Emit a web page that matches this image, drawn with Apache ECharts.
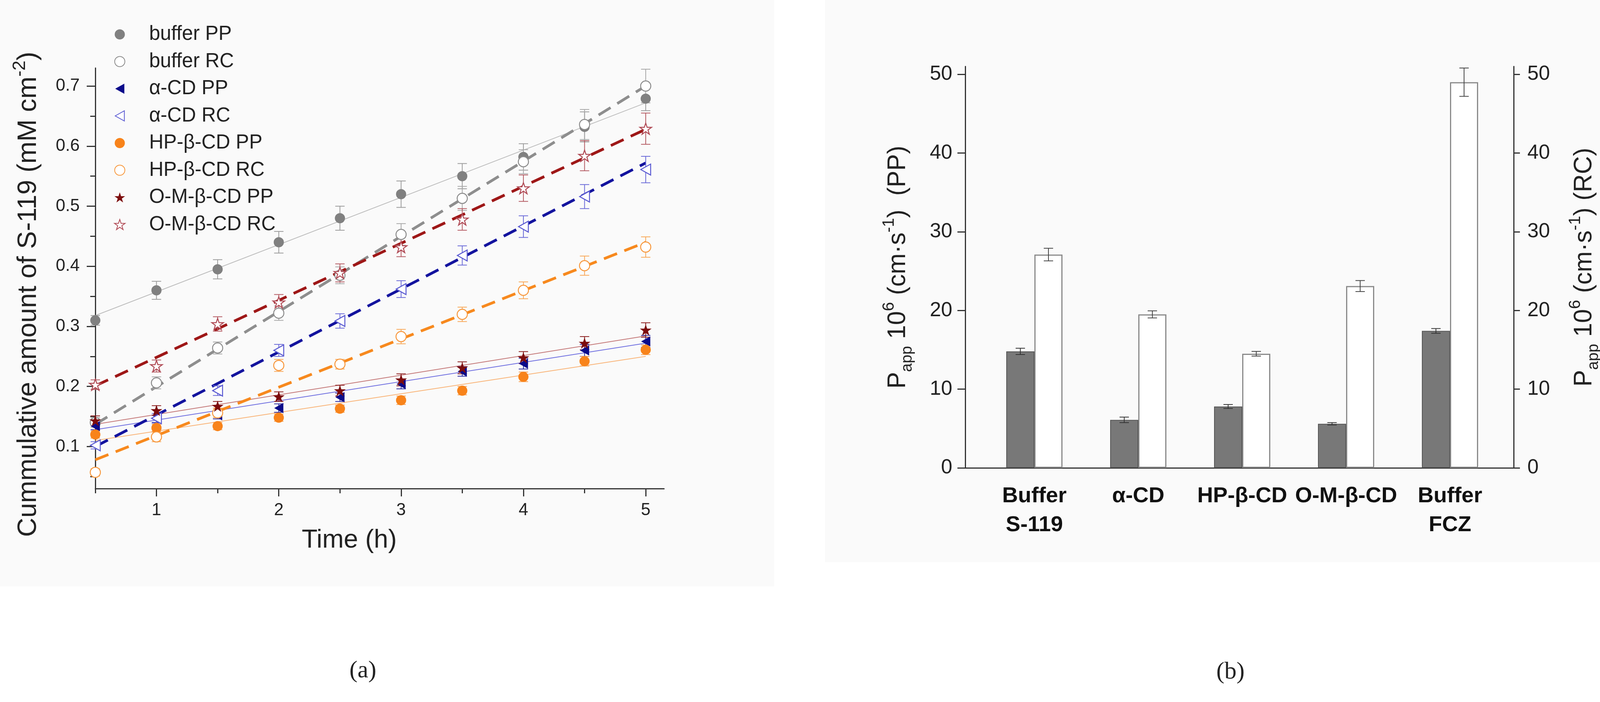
<!DOCTYPE html>
<html>
<head>
<meta charset="utf-8">
<script src="https://cdn.jsdelivr.net/npm/echarts@6.0.0/dist/echarts.min.js"></script>
<style>
  html, body { margin: 0; padding: 0; background: #fff; }
  #chart { width: 4164px; height: 1796px; }
</style>
</head>
<body>
<div id="chart"></div>
<script>
// ---- (a) cumulative amount vs time ----
const times = [0.5, 1, 1.5, 2, 2.5, 3, 3.5, 4, 4.5, 5];
const fitX = [0.5, 5];

const bufferPP = [0.31, 0.36, 0.395, 0.44, 0.48, 0.52, 0.55, 0.582, 0.632, 0.679];
const bufferPPErr = [0.008, 0.015, 0.016, 0.018, 0.02, 0.022, 0.021, 0.022, 0.025, 0.02];
const bufferRC = [0.14, 0.206, 0.264, 0.322, 0.385, 0.453, 0.513, 0.574, 0.636, 0.70];
const bufferRCErr = [0.008, 0.01, 0.01, 0.012, 0.014, 0.018, 0.02, 0.02, 0.025, 0.028];
const alphaPP = [0.134, 0.146, 0.152, 0.164, 0.182, 0.204, 0.225, 0.238, 0.26, 0.275];
const alphaPPErr = [0.006, 0.006, 0.006, 0.007, 0.007, 0.008, 0.008, 0.009, 0.01, 0.01];
const alphaRC = [0.102, 0.147, 0.193, 0.26, 0.309, 0.362, 0.418, 0.466, 0.516, 0.561];
const alphaRCErr = [0.006, 0.008, 0.008, 0.01, 0.012, 0.014, 0.016, 0.018, 0.02, 0.022];
const hpPP = [0.12, 0.131, 0.134, 0.148, 0.163, 0.177, 0.193, 0.216, 0.242, 0.261];
const hpPPErr = [0.006, 0.006, 0.006, 0.006, 0.006, 0.007, 0.007, 0.008, 0.008, 0.008];
const hpRC = [0.057, 0.116, 0.156, 0.235, 0.237, 0.283, 0.32, 0.36, 0.401, 0.432];
const hpRCErr = [0.006, 0.008, 0.008, 0.01, 0.008, 0.012, 0.012, 0.014, 0.016, 0.017];
const omPP = [0.143, 0.16, 0.167, 0.183, 0.193, 0.211, 0.231, 0.248, 0.272, 0.294];
const omPPErr = [0.008, 0.008, 0.008, 0.008, 0.009, 0.01, 0.01, 0.01, 0.011, 0.012];
const omRC = [0.203, 0.234, 0.304, 0.34, 0.389, 0.432, 0.478, 0.53, 0.584, 0.629];
const omRCErr = [0.008, 0.01, 0.012, 0.013, 0.015, 0.016, 0.018, 0.022, 0.025, 0.026];

// linear fit end points read at t = 0.5 h and t = 5 h
const bufferPPFit = [0.318, 0.672];
const bufferRCFit = [0.137, 0.70];
const alphaPPFit = [0.128, 0.272];
const alphaRCFit = [0.10, 0.572];
const hpPPFit = [0.110, 0.250];
const hpRCFit = [0.078, 0.44];
const omPPFit = [0.137, 0.284];
const omRCFit = [0.201, 0.628];

const yTicksA = [0.1, 0.2, 0.3, 0.4, 0.5, 0.6, 0.7];
const yMinorA = [0.05, 0.15, 0.25, 0.35, 0.45, 0.55, 0.65];
const xTicksA = [1, 2, 3, 4, 5];
const xMinorA = [0.5, 1.5, 2.5, 3.5, 4.5];

// ---- (b) apparent permeability ----
const groups = ['Buffer\nS-119', 'α-CD', 'HP-β-CD', 'O-M-β-CD', 'Buffer\nFCZ'];
const papPP = [14.8, 6.1, 7.8, 5.6, 17.4];
const papPPErr = [0.4, 0.35, 0.25, 0.15, 0.3];
const papRC = [27.1, 19.5, 14.5, 23.1, 49.0];
const papRCErr = [0.8, 0.45, 0.3, 0.7, 1.8];
const yTicksB = [0, 10, 20, 30, 40, 50];

const FONT = '"Liberation Sans", Arial, Helvetica, sans-serif';
const STAR = 'path://M50,0 L61.8,35.3 L98.6,35.3 L68.8,57.1 L80.2,92.7 L50,70.8 L19.8,92.7 L31.2,57.1 L1.4,35.3 L38.2,35.3 Z';
const TRI_LEFT = 'path://M0,50 L90,0 L90,100 Z';
const BAR_W = 72;

const chart = echarts.init(document.getElementById('chart'));

function errorBars(color, capHalf, dx) {
  return function (params, api) {
    const x = api.value(0), y = api.value(1), e = api.value(2);
    const hi = api.coord([x, y + e]);
    const lo = api.coord([x, y - e]);
    const cx = hi[0] + (dx || 0);
    const st = { stroke: color, lineWidth: 2 };
    return {
      type: 'group',
      children: [
        { type: 'line', shape: { x1: cx, y1: hi[1], x2: cx, y2: lo[1] }, style: st },
        { type: 'line', shape: { x1: cx - capHalf, y1: hi[1], x2: cx + capHalf, y2: hi[1] }, style: st },
        { type: 'line', shape: { x1: cx - capHalf, y1: lo[1], x2: cx + capHalf, y2: lo[1] }, style: st }
      ]
    };
  };
}

const sets = [
  { name: 'buffer PP', v: bufferPP, e: bufferPPErr, fit: bufferPPFit, symbol: 'circle', size: 26,
    fill: '#808080', stroke: '#808080', err: '#9a9a9a', line: '#bdbdbd', dashed: false },
  { name: 'buffer RC', v: bufferRC, e: bufferRCErr, fit: bufferRCFit, symbol: 'circle', size: 26,
    fill: '#fff', stroke: '#8c8c8c', err: '#a8a8a8', line: '#8e8e8e', dashed: true },
  { name: 'α-CD PP', v: alphaPP, e: alphaPPErr, fit: alphaPPFit, symbol: TRI_LEFT, size: 26,
    fill: '#0b0b8a', stroke: '#0b0b8a', err: '#2a2aa0', line: '#6f6fe0', dashed: false },
  { name: 'α-CD RC', v: alphaRC, e: alphaRCErr, fit: alphaRCFit, symbol: TRI_LEFT, size: 28,
    fill: '#fff', stroke: '#5a5ad2', err: '#6a6ad8', line: '#13139e', dashed: true },
  { name: 'HP-β-CD PP', v: hpPP, e: hpPPErr, fit: hpPPFit, symbol: 'circle', size: 26,
    fill: '#f8831a', stroke: '#f8831a', err: '#f8a050', line: '#f9b478', dashed: false },
  { name: 'HP-β-CD RC', v: hpRC, e: hpRCErr, fit: hpRCFit, symbol: 'circle', size: 26,
    fill: '#fff', stroke: '#f7983e', err: '#f8a858', line: '#f7891e', dashed: true },
  { name: 'O-M-β-CD PP', v: omPP, e: omPPErr, fit: omPPFit, symbol: STAR, size: 30,
    fill: '#7c0c0c', stroke: '#7c0c0c', err: '#8a1c1c', line: '#c47878', dashed: false },
  { name: 'O-M-β-CD RC', v: omRC, e: omRCErr, fit: omRCFit, symbol: STAR, size: 30,
    fill: '#fff', stroke: '#b04a55', err: '#b45a62', line: '#9e1717', dashed: true }
];

const series = [];
sets.forEach(function (s) {
  series.push({
    type: 'line', xAxisIndex: 0, yAxisIndex: 0, silent: true,
    showSymbol: false, z: s.dashed ? 3 : 2,
    data: fitX.map((x, i) => [x, s.fit[i]]),
    lineStyle: s.dashed
      ? { color: s.line, width: 7, type: [36, 20] }
      : { color: s.line, width: 2 }
  });
});
sets.forEach(function (s) {
  series.push({
    type: 'custom', xAxisIndex: 0, yAxisIndex: 0, silent: true, z: 4,
    renderItem: errorBars(s.err, 12),
    encode: { x: 0, y: 1 },
    data: times.map((t, i) => [t, s.v[i], s.e[i]])
  });
});
sets.forEach(function (s) {
  series.push({
    name: s.name, type: 'scatter', xAxisIndex: 0, yAxisIndex: 0, z: 5,
    symbol: s.symbol, symbolSize: s.size, symbolKeepAspect: true,
    itemStyle: { color: s.fill, borderColor: s.stroke, borderWidth: s.fill === '#fff' ? 2.5 : 0, opacity: 1 },
    data: times.map((t, i) => [t, s.v[i]])
  });
});

series.push({
  name: 'PP', type: 'bar', xAxisIndex: 3, yAxisIndex: 4, barWidth: BAR_W, barGap: '0%',
  itemStyle: { color: '#787878', borderColor: '#555', borderWidth: 2 },
  data: papPP
});
series.push({
  name: 'RC', type: 'bar', xAxisIndex: 3, yAxisIndex: 4, barWidth: BAR_W, barGap: '0%',
  itemStyle: { color: '#fff', borderColor: '#8a8a8a', borderWidth: 3 },
  data: papRC
});
series.push({
  type: 'custom', xAxisIndex: 3, yAxisIndex: 4, z: 4, silent: true,
  renderItem: errorBars('#333', 12, -BAR_W / 2),
  data: papPP.map((v, i) => [i, v, papPPErr[i]])
});
series.push({
  type: 'custom', xAxisIndex: 3, yAxisIndex: 4, z: 4, silent: true,
  renderItem: errorBars('#444', 12, BAR_W / 2),
  data: papRC.map((v, i) => [i, v, papRCErr[i]])
});

const axisLine = { show: true, onZero: false, lineStyle: { color: '#333', width: 3 } };
const tickStyle = { color: '#333', width: 3 };
const supRich = {
  sup: { fontSize: 42, lineHeight: 42, verticalAlign: 'top', fontFamily: FONT, color: '#222' },
  sub: { fontSize: 40, lineHeight: 40, verticalAlign: 'bottom', fontFamily: FONT, color: '#222' }
};

const option = {
  animation: false,
  backgroundColor: '#fff',
  textStyle: { fontFamily: FONT },
  graphic: [
    { type: 'rect', z: -100, silent: true, shape: { x: 0, y: 0, width: 1982, height: 1500 }, style: { fill: '#fafafa' } },
    { type: 'rect', z: -100, silent: true, shape: { x: 2112, y: 0, width: 2052, height: 1438 }, style: { fill: '#fafafa' } },
    { type: 'text', x: 929, y: 1717, silent: true,
      style: { text: '(a)', align: 'center', verticalAlign: 'middle', fill: '#222',
        font: '62px "Liberation Serif", "DejaVu Serif", serif' } },
    { type: 'text', x: 3150, y: 1720, silent: true,
      style: { text: '(b)', align: 'center', verticalAlign: 'middle', fill: '#222',
        font: '62px "Liberation Serif", "DejaVu Serif", serif' } }
  ],
  legend: {
    orient: 'vertical', left: 287, top: 57, itemWidth: 140, itemHeight: 26, itemGap: 17.5,
    selectedMode: false,
    data: sets.map(s => s.name),
    textStyle: { fontSize: 51, lineHeight: 52, color: '#222', fontFamily: FONT }
  },
  grid: [
    { left: 244, right: 2464, top: 174, bottom: 546 },
    { left: 2471, right: 289, top: 170, bottom: 599 },
    { left: 2515, right: 319, top: 170, bottom: 599 }
  ],
  xAxis: [
    { type: 'value', gridIndex: 0, position: 'bottom', min: 0.5, max: 5.15, axisLine: axisLine,
      axisTick: { length: 20, lineStyle: tickStyle, customValues: xTicksA },
      axisLabel: { customValues: xTicksA, fontSize: 44, color: '#222', margin: 34 },
      splitLine: { show: false },
      name: 'Time (h)', nameLocation: 'middle', nameGap: 100,
      nameTextStyle: { fontSize: 66, color: '#222', padding: [0, 156, 0, 0] } },
    { type: 'value', gridIndex: 0, position: 'bottom', min: 0.5, max: 5.15, axisLine: { show: false, onZero: false },
      axisTick: { length: 12, lineStyle: tickStyle, customValues: xMinorA },
      axisLabel: { show: false }, splitLine: { show: false } },
    { type: 'value', gridIndex: 1, position: 'bottom', min: 0, max: 1, axisLine: axisLine,
      axisTick: { show: false }, axisLabel: { show: false }, splitLine: { show: false } },
    { type: 'category', gridIndex: 2, position: 'bottom', data: groups, axisLine: { show: false }, axisTick: { show: false },
      axisLabel: { interval: 0, fontSize: 56, fontWeight: 'bold', color: '#111', lineHeight: 74, margin: 36 } }
  ],
  yAxis: [
    { type: 'value', gridIndex: 0, position: 'left', min: 0.03, max: 0.73, axisLine: axisLine,
      axisTick: { length: 22, lineStyle: tickStyle, customValues: yTicksA },
      axisLabel: { customValues: yTicksA, fontSize: 44, color: '#222', margin: 40,
        formatter: v => v.toFixed(1) },
      splitLine: { show: false },
      name: 'Cummulative amount of S-119 (mM cm{sup|-2})', nameLocation: 'middle', nameRotate: 90, nameGap: 126,
      nameTextStyle: { fontSize: 68, lineHeight: 90, color: '#222', padding: [0, 82, 0, 0],
        rich: { sup: { fontSize: 46, lineHeight: 46, verticalAlign: 'top', color: '#222' } } } },
    { type: 'value', gridIndex: 0, position: 'left', min: 0.03, max: 0.73, axisLine: { show: false, onZero: false },
      axisTick: { length: 13, lineStyle: tickStyle, customValues: yMinorA },
      axisLabel: { show: false }, splitLine: { show: false } },
    { type: 'value', gridIndex: 1, min: 0, max: 51, position: 'left', axisLine: axisLine,
      axisTick: { length: 20, lineStyle: tickStyle, customValues: yTicksB },
      axisLabel: { customValues: yTicksB, fontSize: 52, color: '#222', margin: 33 },
      splitLine: { show: false },
      name: 'P{sub|app} 10{sup|6} (cm·s{sup|-1})  (PP)', nameLocation: 'middle', nameRotate: 90, nameGap: 128,
      nameTextStyle: { fontSize: 64, lineHeight: 88, color: '#222', rich: supRich } },
    { type: 'value', gridIndex: 1, min: 0, max: 51, position: 'right', axisLine: axisLine,
      axisTick: { length: 16, lineStyle: tickStyle, customValues: yTicksB },
      axisLabel: { customValues: yTicksB, fontSize: 52, color: '#222', margin: 35 },
      splitLine: { show: false },
      name: 'P{sub|app} 10{sup|6} (cm·s{sup|-1}) (RC)', nameLocation: 'middle', nameRotate: 90, nameGap: 137,
      nameTextStyle: { fontSize: 64, lineHeight: 88, color: '#222', rich: supRich } },
    { type: 'value', gridIndex: 2, min: 0, max: 51, show: false }
  ],
  series: series
};

chart.setOption(option);
</script>
</body>
</html>
